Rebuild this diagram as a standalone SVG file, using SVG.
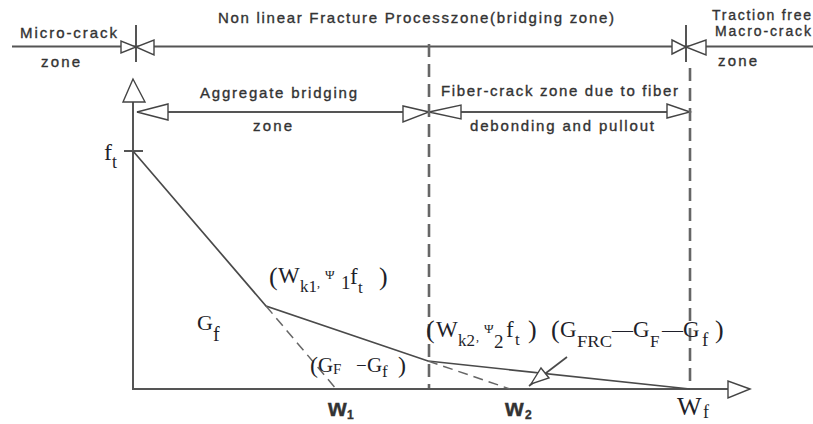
<svg xmlns="http://www.w3.org/2000/svg" width="813" height="424" viewBox="0 0 813 424">
<defs>
<style>
.ln{stroke:#555;stroke-width:2;fill:none}
.cv{stroke:#4a4a4a;stroke-width:1.7;fill:none}
.dv{stroke:#666;stroke-width:2.6;fill:none;stroke-dasharray:13 7}
.dc{stroke:#666;stroke-width:1.5;fill:none;stroke-dasharray:10 6}
.tri{fill:#fff;stroke:#444;stroke-width:1.4;stroke-linejoin:miter}
.s{font-family:"Liberation Sans",Arial,sans-serif;font-size:15px;fill:#333;stroke:#333;stroke-width:0.35}
.m{font-family:"Liberation Serif","Times New Roman",serif;fill:#1f1f2a}
</style>
</defs>
<rect width="813" height="424" fill="#fff"/>
<g id="connectors">
  <line class="ln" x1="12" y1="46.5" x2="813" y2="46.5"/>
  <line class="ln" x1="136" y1="25" x2="136" y2="62"/>
  <line class="ln" x1="686" y1="25" x2="686" y2="62"/>
  <polygon class="tri" points="121,41 121,53 136,47"/>
  <polygon class="tri" points="154,40 154,55 136,47"/>
  <polygon class="tri" points="672,40 672,54 686,47"/>
  <polygon class="tri" points="706,40 706,55 686,47"/>
  <line class="ln" x1="137" y1="112" x2="690" y2="112"/>
  <polygon class="tri" points="168,104 168,120 137,112"/>
  <polygon class="tri" points="403,106 403,122 429,112"/>
  <polygon class="tri" points="461,105 461,119 429,112"/>
  <polygon class="tri" points="667,104 667,118 690,112"/>
  <line class="dv" x1="429" y1="44" x2="429" y2="389"/>
  <line class="dv" x1="690" y1="68" x2="690" y2="389"/>
  <line class="ln" x1="133" y1="100" x2="133" y2="390"/>
  <line class="ln" x1="132" y1="389" x2="730" y2="389"/>
  <polygon class="tri" points="133,79 123,102 145,102"/>
  <polygon class="tri" points="750,389 728,381 728,398"/>
  <line class="ln" x1="124" y1="151" x2="143" y2="151"/>
  <polyline class="cv" points="133,151 266,306 428,361 690,389"/>
  <line class="dc" x1="266" y1="306" x2="337" y2="390"/>
  <line class="dc" x1="428" y1="361" x2="510" y2="389"/>
  <line class="cv" x1="567" y1="357" x2="529" y2="386" stroke-width="1.4"/>
  <polygon class="tri" points="531,384 541,368 549,378"/>
</g>
<g id="zone-labels">
  <text class="s" x="20" y="38" textLength="97" lengthAdjust="spacing">Micro-crack</text>
  <text class="s" x="41" y="67" textLength="39" lengthAdjust="spacing">zone</text>
  <text class="s" x="218" y="23" textLength="396" lengthAdjust="spacing">Non linear Fracture Processzone(bridging zone)</text>
  <text class="s" x="712" y="20" textLength="99" lengthAdjust="spacing" style="font-size:14px">Traction free</text>
  <text class="s" x="715" y="36" textLength="96" lengthAdjust="spacing" style="font-size:14px">Macro-crack</text>
  <text class="s" x="718" y="66" textLength="39" lengthAdjust="spacing">zone</text>
  <text class="s" x="200" y="98" textLength="157" lengthAdjust="spacing">Aggregate bridging</text>
  <text class="s" x="253" y="131" textLength="39" lengthAdjust="spacing">zone</text>
  <text class="s" x="441" y="96" textLength="237" lengthAdjust="spacing">Fiber-crack zone due to fiber</text>
  <text class="s" x="470" y="131" textLength="184" lengthAdjust="spacing">debonding and pullout</text>
</g>
<g id="math-labels">
  <g id="ft">
    <text class="m" x="104" y="160" font-size="24">f</text>
    <text class="m" x="112" y="168" font-size="18">t</text>
  </g>
  <g id="point1">
    <text class="m" x="269" y="285" font-size="26">(</text>
    <text class="m" x="278" y="283" font-size="23">W</text>
    <text class="m" x="300" y="292" font-size="17">k1</text>
    <text class="m" x="317" y="287" font-size="12">,</text>
    <text class="m" x="325" y="279" font-size="13">Ψ</text>
    <text class="m" x="341" y="289" font-size="19">1</text>
    <text class="m" x="350" y="284" font-size="23">f</text>
    <text class="m" x="358" y="293" font-size="17">t</text>
    <text class="m" x="379" y="285" font-size="26">)</text>
  </g>
  <g id="Gf">
    <text class="m" x="197" y="330" font-size="22">G</text>
    <text class="m" x="213" y="341" font-size="20">f</text>
  </g>
  <g id="GF-Gf">
    <text class="m" x="310" y="373" font-size="24">(</text>
    <text class="m" x="318" y="372" font-size="21">G</text>
    <text class="m" x="333" y="374" font-size="15">F</text>
    <text class="m" x="356" y="372" font-size="19">−</text>
    <text class="m" x="367" y="372" font-size="21">G</text>
    <text class="m" x="382" y="377" font-size="17">f</text>
    <text class="m" x="398" y="373" font-size="24">)</text>
  </g>
  <g id="point2">
    <text class="m" x="426" y="338" font-size="26">(</text>
    <text class="m" x="436" y="337" font-size="23">W</text>
    <text class="m" x="458" y="346" font-size="17">k2</text>
    <text class="m" x="476" y="341" font-size="12">,</text>
    <text class="m" x="484" y="333" font-size="13">Ψ</text>
    <text class="m" x="494" y="348" font-size="19">2</text>
    <text class="m" x="506" y="337" font-size="23">f</text>
    <text class="m" x="515" y="345" font-size="17">t</text>
    <text class="m" x="528" y="338" font-size="26">)</text>
  </g>
  <g id="GFRC">
    <text class="m" x="551" y="338" font-size="26">(</text>
    <text class="m" x="560" y="337" font-size="23">G</text>
    <text class="m" x="577" y="347" font-size="17" textLength="35" lengthAdjust="spacingAndGlyphs">FRC</text>
    <text class="m" x="612" y="337" font-size="21" textLength="21" lengthAdjust="spacingAndGlyphs">—</text>
    <text class="m" x="633" y="337" font-size="23">G</text>
    <text class="m" x="650" y="347" font-size="17">F</text>
    <text class="m" x="662" y="337" font-size="21" textLength="21" lengthAdjust="spacingAndGlyphs">—</text>
    <text class="m" x="683" y="337" font-size="23">G</text>
    <text class="m" x="702" y="346" font-size="19">f</text>
    <text class="m" x="715" y="338" font-size="26">)</text>
  </g>
  <g id="w-labels">
    <text class="s" x="328" y="416" font-weight="bold" style="font-size:24px">w</text>
    <text class="s" x="347" y="419" style="font-size:12px" font-weight="bold">1</text>
    <text class="s" x="505" y="416" font-weight="bold" style="font-size:24px">w</text>
    <text class="s" x="525" y="419" style="font-size:12px" font-weight="bold">2</text>
    <text class="m" x="677" y="415" font-size="26">W</text>
    <text class="m" x="703" y="418" font-size="18">f</text>
  </g>
</g>
</svg>
